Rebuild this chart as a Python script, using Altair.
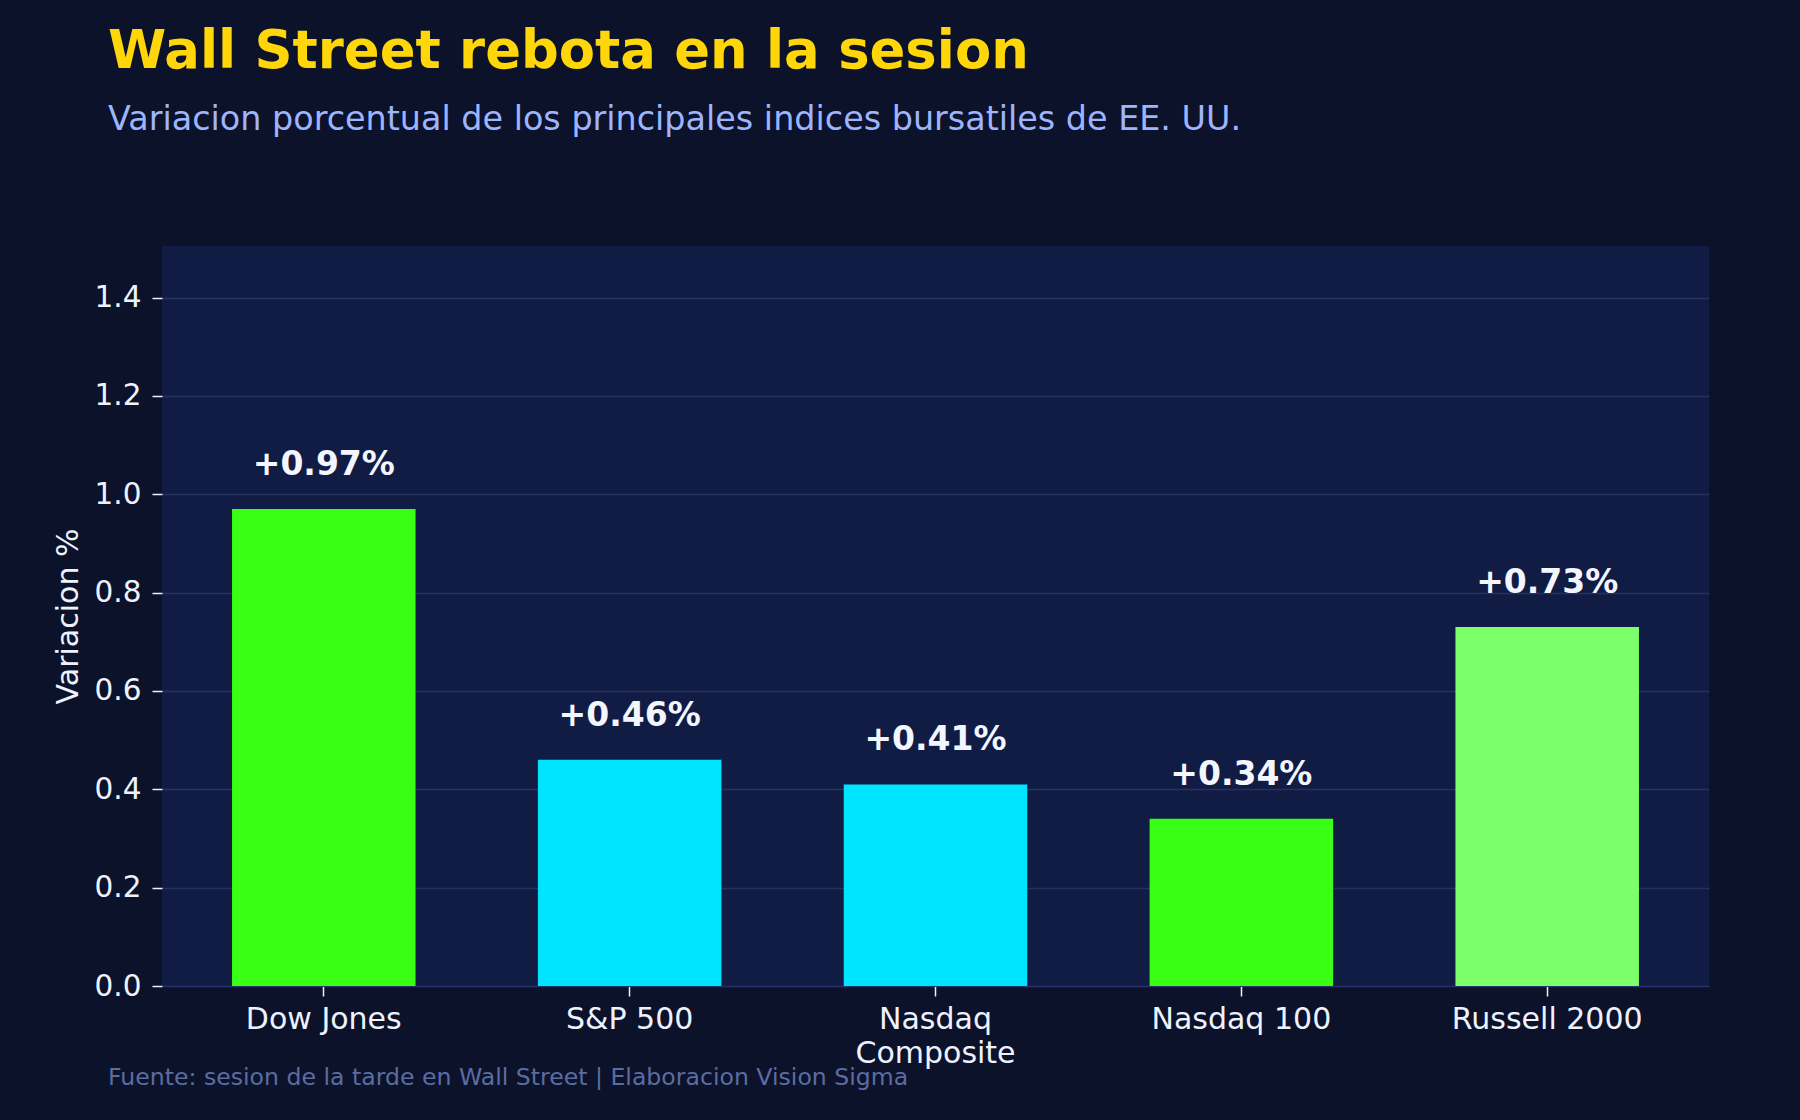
import altair as alt
import pandas as pd

# ---- data ----
indices = ["Dow Jones", "S&P 500", "Nasdaq\nComposite", "Nasdaq 100", "Russell 2000"]
variacion = [0.97, 0.46, 0.41, 0.34, 0.73]
colores = ["#39ff14", "#00e5ff", "#00e5ff", "#39ff14", "#7dff6b"]
y_ticks = [0.0, 0.2, 0.4, 0.6, 0.8, 1.0, 1.2, 1.4]

titulo = "Wall Street rebota en la sesion"
subtitulo = "Variacion porcentual de los principales indices bursatiles de EE. UU."
fuente = "Fuente: sesion de la tarde en Wall Street | Elaboracion Vision Sigma"
eje_y = "Variacion %"

FONT = "DejaVu Sans"
BG = "#0b1229"
PLOT_BG = "#101c44"
TXT = "#eef2ff"

df = pd.DataFrame({
    "indice": indices,
    "valor": variacion,
    "color": colores,
    "etiqueta": [f"+{v:.2f}%" for v in variacion],
})

W, H = 1547, 740

x_enc = alt.X(
    "indice:N",
    sort=indices,
    scale=alt.Scale(paddingInner=0.4, paddingOuter=0.229),
    axis=alt.Axis(
        title=None,
        labelAngle=0,
        labelFont=FONT,
        labelFontSize=30,
        labelColor=TXT,
        labelPadding=8,
        labelLineHeight=34,
        labelLimit=500,
        labelExpr="split(datum.label, '\\n')",
        tickSize=10,
        tickWidth=1.5,
        tickColor=TXT,
        domain=True,
        domainColor="#26336a",
        domainWidth=1,
        grid=False,
    ),
)
y_enc = alt.Y(
    "valor:Q",
    scale=alt.Scale(domain=[0, 1.505], nice=False, zero=True),
    axis=alt.Axis(
        values=y_ticks,
        format=".1f",
        labelFont=FONT,
        labelFontSize=29.5,
        labelColor=TXT,
        labelPadding=11,
        tickSize=10,
        tickWidth=1.5,
        tickColor=TXT,
        domain=False,
        grid=True,
        gridColor="#25315f",
        gridWidth=1.3,
        title=eje_y,
        titleFont=FONT,
        titleFontSize=30,
        titleFontWeight="normal",
        titleColor=TXT,
        titleAngle=270,
        titleX=-85,
        titleY=H / 2,
        titleAlign="center",
        titleBaseline="alphabetic",
    ),
)

base = alt.Chart(df)

bars = base.mark_bar().encode(
    x=x_enc,
    y=y_enc,
    color=alt.Color("color:N", scale=None, legend=None),
)

labels = base.mark_text(
    dy=-34,
    baseline="alphabetic",
    align="center",
    font=FONT,
    fontSize=33,
    fontWeight="bold",
    color="#f3f5ff",
).encode(
    x=alt.X("indice:N", sort=indices),
    y=alt.Y("valor:Q"),
    text="etiqueta:N",
)

def texto(t, y, size, color, weight="normal"):
    return alt.Chart(pd.DataFrame({"t": [t]})).mark_text(
        align="left",
        baseline="alphabetic",
        font=FONT,
        fontSize=size,
        fontWeight=weight,
        color=color,
    ).encode(x=alt.value(-54), y=alt.value(y), text="t:N")

t_title = texto(titulo, -178, 52.8, "#ffd60a", "bold")
t_sub = texto(subtitulo, -116, 33.4, "#9db4ff")
t_foot = texto(fuente, 839, 23.6, "#5b6ca3")

chart = alt.layer(bars, labels, t_title, t_sub, t_foot).properties(
    width=W,
    height=H,
    autosize=alt.AutoSizeParams(type="none"),
    padding={"left": 154, "top": 238, "right": 83, "bottom": 126},
    background=BG,
).configure_view(
    fill=PLOT_BG,
    stroke=None,
)


class _DarkPage:
    """Wraps the standard HTML template to give the page body the chart background."""
    def __init__(self):
        from altair.utils.html import TEMPLATES
        self._base = TEMPLATES["standard"]

    def render(self, **kw):
        html = self._base.render(**kw)
        return html.replace(
            "<head>",
            "<head>\n<style>html, body { background: %s; }</style>" % BG,
            1,
        )


try:
    chart.save("out.html", embed_options={"renderer": "svg", "actions": False},
               template=_DarkPage())
except Exception:
    chart.save("out.html", embed_options={"renderer": "svg", "actions": False})
